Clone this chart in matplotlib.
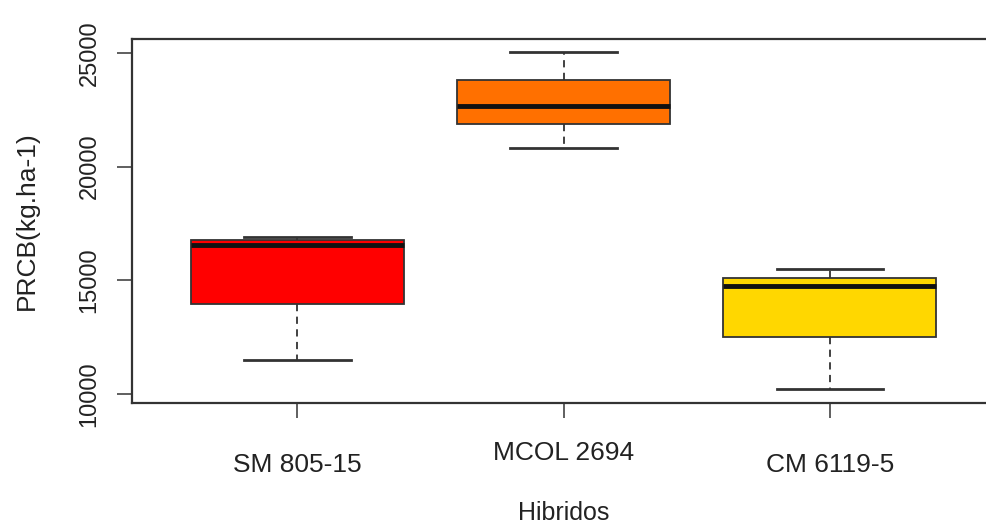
import matplotlib
matplotlib.use("Agg")
import matplotlib.pyplot as plt
import matplotlib.transforms as mtransforms

categories = ["SM 805-15", "MCOL 2694", "CM 6119-5"]
whislo = [11500, 20800, 10220]
q1 = [13950, 21870, 12500]
med = [16550, 22670, 14760]
q3 = [16780, 23800, 15100]
whishi = [16900, 25030, 15490]
colors = ["#FF0000", "#FF7000", "#FFD700"]
y_ticks = [10000, 15000, 20000, 25000]

plt.rcParams['font.family'] = ['Liberation Sans', 'DejaVu Sans']

fig = plt.figure(figsize=(9.86, 5.29), dpi=100)
ax = fig.add_axes([0.1343, 0.2391, 0.8748, 0.6879])

stats = []
for i, c in enumerate(categories):
    stats.append(dict(label=c, whislo=whislo[i], q1=q1[i], med=med[i],
                      q3=q3[i], whishi=whishi[i], fliers=[]))

positions = list(range(1, len(categories) + 1))
bp = ax.bxp(stats, positions=positions, widths=0.8, patch_artist=True,
            showfliers=False,
            boxprops=dict(edgecolor="#333333", linewidth=1.3),
            medianprops=dict(color="#111111", linewidth=3.5, solid_capstyle="butt"),
            whiskerprops=dict(color="#333333", linewidth=1.3, linestyle=(0, (4, 3))),
            capprops=dict(color="#333333", linewidth=2.0),
            capwidths=0.4)
for patch, col in zip(bp["boxes"], colors):
    patch.set_facecolor(col)

lo = min(whislo)
hi = max(whishi)
rng = hi - lo
ax.set_ylim(lo - 0.04 * rng, hi + 0.04 * rng)
ax.set_xlim(0.38, 3.62)

ax.set_yticks(y_ticks)
ax.set_yticklabels([str(t) for t in y_ticks], rotation=90, va="center")
ax.set_xticks(positions)
ax.set_xticklabels(categories)

for s in ax.spines.values():
    s.set_color("#333333")
    s.set_linewidth(1.6)

ax.tick_params(axis="y", length=11, width=1.2, color="#444444", labelsize=17, pad=12, labelcolor="#222222")
ax.tick_params(axis="x", length=11, width=1.2, color="#444444", labelsize=19, pad=25, labelcolor="#222222")

# the middle label sits slightly higher in the reference
mid = ax.get_xticklabels()[1]
mid.set_transform(mid.get_transform() + mtransforms.ScaledTranslation(0, 12 / 100, fig.dpi_scale_trans))

ax.set_ylabel("PRCB(kg.ha-1)", fontsize=19, color="#222222")
ax.yaxis.set_label_coords(-0.1222, 0.5)
ax.yaxis.label.set_va("center")
ax.set_xlabel("Hibridos", fontsize=18, color="#222222")
ax.xaxis.set_label_coords(0.5, -0.3037)
ax.xaxis.label.set_va("center")

fig.savefig("out.png", dpi=100)
